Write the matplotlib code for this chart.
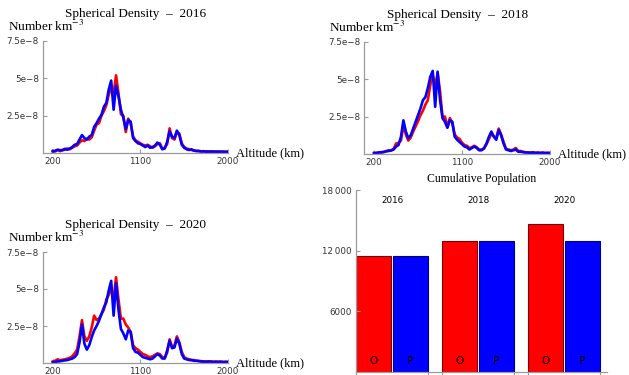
import numpy as np
import matplotlib
matplotlib.use("Agg")
import matplotlib.pyplot as plt

plt.rcParams['mathtext.fontset'] = 'stix'

altitude = list(range(200, 2001, 25))

dens_2016_O = [0.15, 0.10, 0.20, 0.12, 0.18, 0.22, 0.30, 0.25, 0.35, 0.45, 0.50, 0.70,
               0.85, 0.80, 0.95, 0.90, 1.05, 1.50, 1.90, 2.00, 2.50, 2.80, 3.20, 3.90,
               4.40, 4.00, 5.20, 4.00, 2.60, 2.50, 1.40, 2.30, 2.00, 1.10, 0.85, 0.75,
               0.65, 0.55, 0.50, 0.55, 0.45, 0.35, 0.45, 0.60, 0.65, 0.30, 0.35, 0.60,
               1.65, 1.00, 0.90, 1.40, 1.30, 0.65, 0.40, 0.30, 0.25, 0.20, 0.18, 0.12,
               0.15, 0.10, 0.10, 0.12, 0.08, 0.12, 0.08, 0.10, 0.10, 0.07, 0.10, 0.08,
               0.10]
dens_2016_P = [0.10, 0.15, 0.22, 0.18, 0.20, 0.28, 0.22, 0.30, 0.40, 0.55, 0.60, 0.90,
               1.20, 1.00, 0.90, 1.10, 1.20, 1.75, 2.00, 2.30, 2.55, 3.10, 3.35, 4.25,
               4.85, 2.90, 4.50, 3.80, 2.90, 2.35, 1.60, 2.20, 2.10, 1.00, 0.80, 0.65,
               0.60, 0.50, 0.40, 0.50, 0.35, 0.40, 0.50, 0.70, 0.55, 0.25, 0.30, 0.75,
               1.45, 1.10, 1.00, 1.50, 1.20, 0.55, 0.35, 0.25, 0.20, 0.25, 0.15, 0.15,
               0.12, 0.10, 0.12, 0.08, 0.10, 0.08, 0.10, 0.08, 0.08, 0.10, 0.07, 0.08,
               0.08]
dens_2018_O = [0.08, 0.05, 0.12, 0.10, 0.12, 0.20, 0.25, 0.22, 0.35, 0.70, 0.75, 0.90,
               1.90, 1.30, 0.90, 1.10, 1.50, 1.85, 2.20, 2.60, 2.90, 3.30, 3.60, 4.60,
               5.30, 4.50, 5.40, 4.20, 2.50, 2.50, 1.80, 2.40, 2.10, 1.30, 1.10, 1.00,
               0.75, 0.60, 0.55, 0.40, 0.45, 0.55, 0.45, 0.30, 0.30, 0.35, 0.65, 1.00,
               1.35, 1.20, 1.05, 1.70, 1.30, 0.80, 0.35, 0.30, 0.25, 0.30, 0.40, 0.20,
               0.20, 0.15, 0.12, 0.10, 0.10, 0.12, 0.08, 0.10, 0.08, 0.10, 0.07, 0.08,
               0.07]
dens_2018_P = [0.05, 0.08, 0.10, 0.12, 0.15, 0.18, 0.20, 0.25, 0.30, 0.50, 0.60, 1.15,
               2.25, 1.50, 1.05, 1.25, 1.70, 2.15, 2.60, 3.05, 3.60, 3.80, 4.40, 5.15,
               5.55, 3.15, 5.50, 3.60, 2.40, 2.15, 1.75, 2.25, 2.15, 1.15, 0.95, 0.80,
               0.65, 0.50, 0.45, 0.30, 0.40, 0.50, 0.40, 0.25, 0.25, 0.40, 0.70, 1.15,
               1.50, 1.15, 0.95, 1.60, 1.25, 0.70, 0.30, 0.25, 0.20, 0.25, 0.30, 0.15,
               0.15, 0.12, 0.10, 0.10, 0.08, 0.10, 0.07, 0.08, 0.06, 0.08, 0.06, 0.07,
               0.06]
dens_2020_O = [0.10, 0.15, 0.25, 0.18, 0.22, 0.25, 0.30, 0.35, 0.45, 0.65, 0.90, 1.80,
               2.90, 1.80, 1.50, 1.80, 2.40, 3.20, 2.90, 3.00, 3.30, 3.60, 4.30, 4.60,
               5.00, 4.40, 5.80, 4.30, 3.00, 3.00, 2.60, 2.40, 2.10, 1.20, 1.00, 0.90,
               0.75, 0.60, 0.55, 0.45, 0.40, 0.45, 0.55, 0.65, 0.60, 0.40, 0.35, 0.70,
               1.60, 1.10, 1.20, 1.80, 1.40, 0.75, 0.40, 0.30, 0.25, 0.20, 0.20, 0.15,
               0.15, 0.12, 0.10, 0.10, 0.10, 0.12, 0.08, 0.10, 0.08, 0.10, 0.07, 0.08,
               0.08]
dens_2020_P = [0.05, 0.08, 0.10, 0.12, 0.15, 0.18, 0.20, 0.25, 0.30, 0.40, 0.60, 1.40,
               2.60, 1.30, 0.90, 1.20, 1.75, 2.20, 2.50, 2.85, 3.30, 3.75, 4.10, 4.90,
               5.55, 3.20, 5.40, 3.60, 2.30, 2.00, 1.60, 2.20, 2.10, 1.00, 0.75, 0.70,
               0.55, 0.40, 0.35, 0.30, 0.25, 0.30, 0.45, 0.60, 0.50, 0.30, 0.30, 0.85,
               1.50, 1.00, 1.05, 1.65, 1.30, 0.60, 0.30, 0.25, 0.20, 0.20, 0.15, 0.15,
               0.12, 0.10, 0.10, 0.08, 0.10, 0.08, 0.07, 0.08, 0.07, 0.08, 0.06, 0.07,
               0.06]

years = ["2016", "2018", "2020"]
pop_O = [11500, 12950, 14650]
pop_P = [11450, 12980, 12950]

y_ticks = [2.5e-8, 5e-8, 7.5e-8]
y_tick_labels = ["2.5e\u22128", "5e\u22128", "7.5e\u22128"]
x_ticks = [200, 1100, 2000]
bar_ticks = [6000, 12000, 18000]
bar_tick_labels = ["6000", "12\u2009000", "18\u2009000"]

SERIF = "Liberation Serif"
AX_COL = "#9a9a9a"
TXT_COL = "#333333"

fig = plt.figure(figsize=(6.29, 3.75), dpi=100)


def density_panel(rect, year, obs, pred):
    ax = fig.add_axes(rect)
    alt = np.array(altitude)
    ax.plot(alt, np.array(obs) * 1e-8, color="#ff0000", lw=1.9, solid_joinstyle="round")
    ax.plot(alt, np.array(pred) * 1e-8, color="#0000ff", lw=1.9, solid_joinstyle="round")
    ax.set_xlim(100, 2000)
    ax.set_ylim(0, 7.5e-8)
    for s in ["top", "right"]:
        ax.spines[s].set_visible(False)
    for s in ["left", "bottom"]:
        ax.spines[s].set_color(AX_COL)
        ax.spines[s].set_linewidth(0.9)
    ax.set_yticks(y_ticks)
    ax.set_yticklabels(y_tick_labels)
    ax.set_xticks(x_ticks)
    ax.set_xticklabels([str(v) for v in x_ticks])
    ax.tick_params(direction="in", length=3, width=0.8, color=AX_COL,
                   labelsize=6.3, labelcolor=TXT_COL, pad=3)
    ax.patch.set_alpha(0)
    ax.set_title("Spherical Density  \u2013  " + year, family=SERIF, fontsize=9.5,
                 pad=17, color="black")
    ax.text(-0.19, 1.13, "Number km$^{-3}$", transform=ax.transAxes, family=SERIF,
            fontsize=9.5, ha="left", va="center")
    ax.text(1.045, 0.0, "Altitude (km)", transform=ax.transAxes, family=SERIF,
            fontsize=9.0, ha="left", va="center")
    return ax


density_panel([0.0684, 0.592, 0.2941, 0.2987], "2016", dens_2016_O, dens_2016_P)
density_panel([0.5792, 0.5893, 0.2952, 0.2995], "2018", dens_2018_O, dens_2018_P)
density_panel([0.0684, 0.032, 0.2941, 0.296], "2020", dens_2020_O, dens_2020_P)

# Cumulative population bars
ax = fig.add_axes([0.566, 0.008, 0.399, 0.4853])
group_step = 2.457
inner = 1.057
xs_O = [g * group_step + 0.5 for g in range(len(years))]
xs_P = [g * group_step + 0.5 + inner for g in range(len(years))]
ax.bar(xs_O, pop_O, width=1.0, color="#ff0000", edgecolor="#7a0000", linewidth=0.8)
ax.bar(xs_P, pop_P, width=1.0, color="#0000ff", edgecolor="#00007a", linewidth=0.8)
ax.set_xlim(0, 7.17)
ax.set_ylim(0, 18000)
for s in ["top", "right"]:
    ax.spines[s].set_visible(False)
for s in ["left", "bottom"]:
    ax.spines[s].set_color(AX_COL)
    ax.spines[s].set_linewidth(0.9)
ax.set_yticks(bar_ticks)
ax.set_yticklabels(bar_tick_labels)
ax.tick_params(axis="y", direction="in", length=3, width=0.8, color=AX_COL,
               labelsize=6.3, labelcolor=TXT_COL, pad=3)
edges = []
for xo, xp in zip(xs_O, xs_P):
    edges += [xo - 0.5, xp + 0.5]
ax.set_xticks(edges)
ax.set_xticklabels([])
ax.tick_params(axis="x", direction="out", length=3, width=0.8, color=AX_COL)
trans = ax.get_xaxis_transform()
for xo, xp, yr in zip(xs_O, xs_P, years):
    ax.text((xo + xp) / 2, 0.945, yr, transform=trans, ha="center", va="center",
            fontsize=6.3, color="black")
    ax.text(xo, 0.06, "O", transform=trans, ha="center", va="center",
            fontsize=7.5, color="black", zorder=5)
    ax.text(xp, 0.06, "P", transform=trans, ha="center", va="center",
            fontsize=7.5, color="black", zorder=5)
ax.set_title("Cumulative Population", family=SERIF, fontsize=8.5, pad=6)

fig.savefig("out.png", dpi=100)
